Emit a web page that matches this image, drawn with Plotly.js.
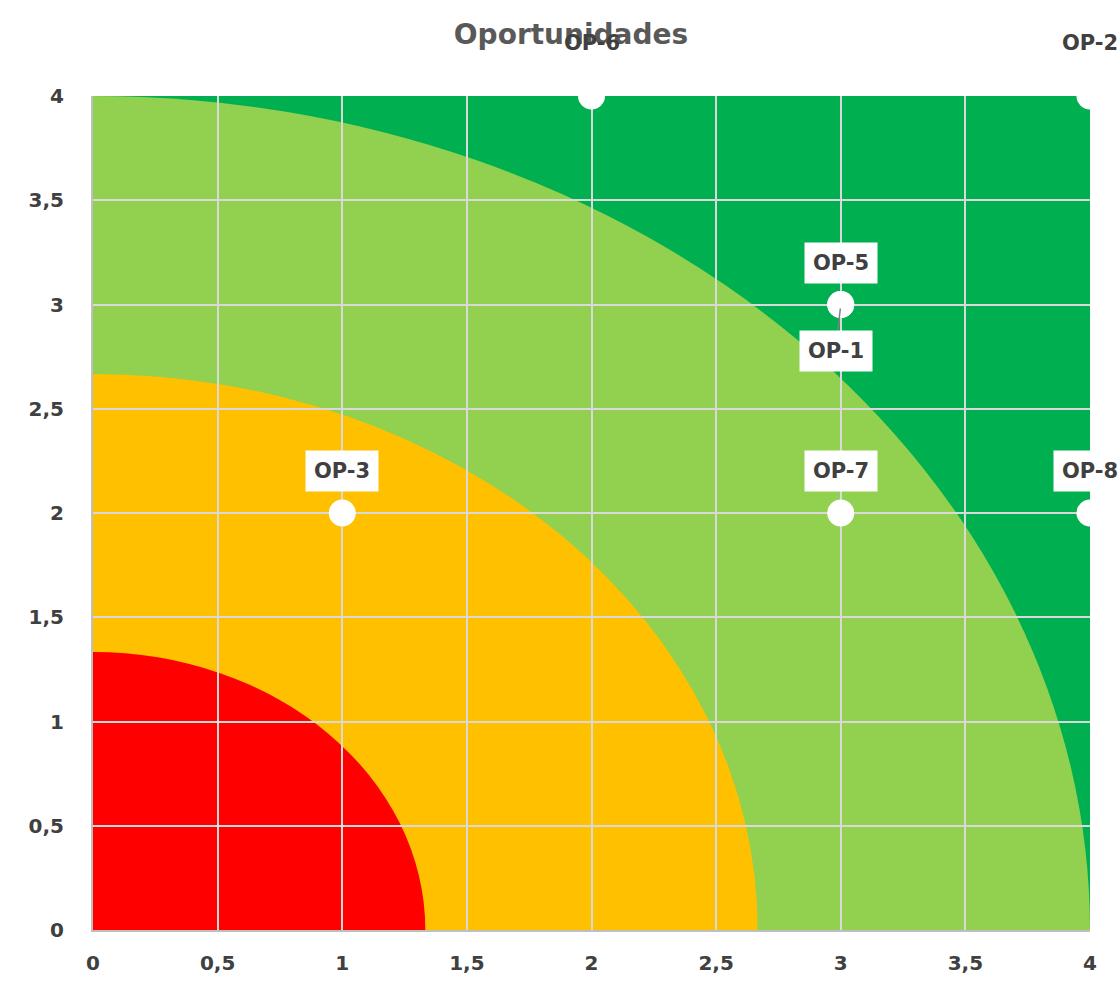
<!DOCTYPE html>
<html><head><meta charset="utf-8">
<script src="https://cdn.plot.ly/plotly-3.0.1.min.js"></script>
<style>html,body{margin:0;padding:0;background:#fff}</style>
</head><body><div id="chart" style="width:1118px;height:981px"></div>
<script>
// Data
const labels = ["OP-6","OP-2","OP-5","OP-1","OP-3","OP-7","OP-8"];
const xVals  = [2, 4, 3, 3, 1, 3, 4];
const yVals  = [4, 4, 3, 3, 2, 2, 2];
// zone radii (from outer to inner) and colours
const zoneRadii  = [4, 8/3, 4/3];
const zoneColors = ["#92D050", "#FFC000", "#FF0000"];
const bgZoneColor = "#00B050";
const tickVals = [0, 0.5, 1, 1.5, 2, 2.5, 3, 3.5, 4];
// label placement (pixel offsets, style only)
const labelShift = [-53, -53, -42, 46, -42, -42, -42];

const FONT = "DejaVu Sans";
const shapes = [{type:"rect", xref:"x", yref:"y", x0:0, x1:4, y0:0, y1:4,
  fillcolor:bgZoneColor, line:{width:0}, layer:"below"}];
zoneRadii.forEach((r,i)=>shapes.push({type:"circle", xref:"x", yref:"y",
  x0:-r, x1:r, y0:-r, y1:r, fillcolor:zoneColors[i], line:{width:0}, layer:"below"}));

const annotations = labels.map((t,i)=>{
  const outside = yVals[i] >= 4;
  const a = {x:xVals[i], y:yVals[i], xref:"x", yref:"y", text:t,
    font:{family:FONT, size:21, color:"#404040", weight:700},
    bgcolor: outside ? "rgba(255,255,255,0)" : "#ffffff", borderpad:8,
    showarrow:false, yshift:-labelShift[i]};
  if (t === "OP-1") {
    delete a.yshift;
    a.showarrow = true; a.arrowhead = 0; a.arrowwidth = 1.5; a.arrowcolor = "#7f7f7f";
    a.ax = -5; a.ay = labelShift[i]; a.standoff = 4;
  }
  return a;
});

const trace = {type:"scatter", mode:"markers", x:xVals, y:yVals, text:labels,
  marker:{size:27, color:"#ffffff", line:{width:0}}, cliponaxis:false, hoverinfo:"text"};

const tickFont = {family:FONT, size:20, color:"#404040", weight:700};
const layout = {
  width:1118, height:981,
  margin:{l:93, r:28, t:96, b:51},
  paper_bgcolor:"#ffffff", plot_bgcolor:"#ffffff",
  separators:", ",
  title:{text:"Oportunidades", x:571/1118, xref:"container", xanchor:"center",
    y:1-34/981, yref:"container", yanchor:"middle",
    font:{family:FONT, size:28, color:"#595959", weight:700}},
  showlegend:false,
  xaxis:{range:[0,4], tickvals:tickVals, ticks:"", showgrid:true, gridcolor:"#D9D9D9", gridwidth:2,
    zeroline:false, showline:true, linecolor:"#BFBFBF", linewidth:2,
    tickfont:tickFont, ticklabelstandoff:14},
  yaxis:{range:[0,4], tickvals:tickVals, ticks:"", showgrid:true, gridcolor:"#D9D9D9", gridwidth:2,
    zeroline:false, showline:true, linecolor:"#BFBFBF", linewidth:2,
    tickfont:tickFont, ticklabelstandoff:23},
  shapes:shapes, annotations:annotations
};
Plotly.newPlot("chart", [trace], layout, {displayModeBar:false});
</script></body></html>
